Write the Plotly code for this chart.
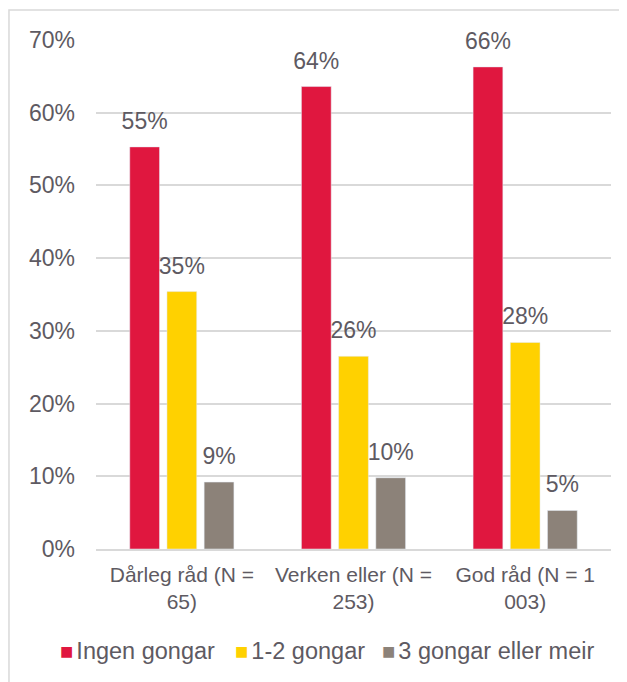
import plotly.graph_objects as go

categories = ["Dårleg råd (N =<br>65)", "Verken eller (N =<br>253)", "God råd (N = 1<br>003)"]
series_names = ["Ingen gongar", "1-2 gongar", "3 gongar eller meir"]
ingen = [55.3, 63.6, 66.3]
en_to = [35.4, 26.5, 28.4]
tre_meir = [9.2, 9.8, 5.3]
colors = ["#E0173F", "#FFD100", "#8C8279"]
text_col = "#5E5A62"

fig = go.Figure()
for i, (name, vals, col) in enumerate(zip(series_names, [ingen, en_to, tre_meir], colors)):
    fig.add_trace(go.Bar(
        x=categories, y=vals, name=name, marker_color=col, offsetgroup=str(i),
    ))
    # value labels, a bit above the bar tops (invisible marker gives the padding)
    fig.add_trace(go.Scatter(
        x=categories, y=vals, offsetgroup=str(i), mode="markers+text",
        marker=dict(size=18, opacity=0), text=[f"{round(v):.0f}%" for v in vals],
        textposition="top center", textfont=dict(size=23, color=text_col),
        cliponaxis=False, hoverinfo="skip", showlegend=False,
    ))

# the page body adds an 8px offset, so the figure is 8px smaller than the window
fig.update_layout(
    width=619, height=674,
    margin=dict(l=88, r=16, t=32, b=133, autoexpand=False),
    paper_bgcolor="white", plot_bgcolor="white",
    font=dict(family="Liberation Sans, Arial, sans-serif", color=text_col, size=22),
    barmode="group", bargap=0.35, bargroupgap=0.2,
    scattermode="group", scattergap=0.35,
    showlegend=False,
    xaxis=dict(showline=True, linecolor="#D9D9D9", linewidth=1.5, ticks="",
               tickfont=dict(size=21), ticklabelstandoff=6),
    yaxis=dict(range=[0, 70], dtick=10, ticksuffix="%", showgrid=True,
               gridcolor="#D9D9D9", gridwidth=1.5, zeroline=False,
               tickfont=dict(size=23), ticklabelstandoff=20),
)

# legend drawn as a row of text entries under the chart
legend_x = [-0.074, 0.266, 0.551]
for name, col, lx in zip(series_names, colors, legend_x):
    fig.add_annotation(
        xref="paper", yref="paper", x=lx, y=-0.2, xanchor="left", yanchor="middle",
        showarrow=False, font=dict(size=23.5, color=text_col),
        text=(f'<span style="color:{col};font-size:22px">■</span>'
              f'<span style="font-size:11px"> </span>{name}'),
    )

fig.add_shape(type="rect", xref="paper", yref="paper",
              x0=-0.169, x1=1.2, y0=-0.5, y1=1.059,
              line=dict(color="#D9D9D9", width=1.5), layer="below")

fig.write_html("out.html")
